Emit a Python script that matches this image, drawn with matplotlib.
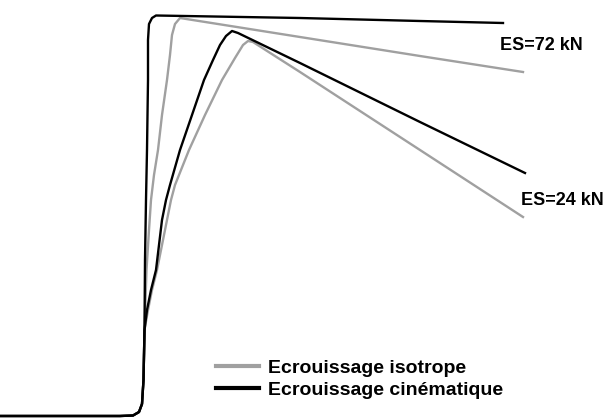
import matplotlib.pyplot as plt

plt.rcParams['font.family'] = ['Liberation Sans', 'DejaVu Sans']

# common part of the curves (all four start together)
base_x = [0, 120, 133, 139, 142, 143.5, 144.5]
base_y = [416, 416, 415.5, 412, 404, 380, 330]

# ES = 72 kN
cin72_x = base_x + [145, 146, 147, 148, 148, 149, 152, 156, 300, 420, 503]
cin72_y = base_y + [260, 200, 150, 80, 40, 24, 18, 15.5, 18, 21, 23]
iso72_x = base_x + [146.5, 149, 151, 154, 158, 162, 167, 170, 172, 175, 180, 300, 420, 523]
iso72_y = base_y + [270, 230, 200, 175, 150, 115, 80, 55, 35, 24, 18, 37, 56, 72]

# ES = 24 kN
cin24_x = base_x + [147, 151, 156, 159, 162, 166, 170, 180, 192, 204, 213, 220, 226, 232, 238, 300, 420, 525]
cin24_y = base_y + [310, 290, 270, 245, 220, 200, 185, 150, 115, 80, 60, 45, 36, 31, 33, 63, 122, 173]
iso24_x = base_x + [148, 152, 157, 163, 167, 171, 175, 189, 205, 222, 235, 243, 248, 253, 300, 420, 523]
iso24_y = base_y + [310, 290, 270, 240, 220, 200, 185, 150, 115, 80, 58, 45, 41, 42, 72, 150, 217]

gris = '#a0a0a0'
noir = '#000000'

fig = plt.figure(figsize=(6.06, 4.19), dpi=100)
ax = fig.add_axes([0, 0, 1, 1])
ax.set_xlim(0, 606)
ax.set_ylim(419, 0)
ax.axis('off')

l_iso, = ax.plot(iso72_x, iso72_y, color=gris, lw=1.7, label='Ecrouissage isotrope')
ax.plot(iso24_x, iso24_y, color=gris, lw=1.7)
l_cin, = ax.plot(cin72_x, cin72_y, color=noir, lw=1.7, label='Ecrouissage cinématique')
ax.plot(cin24_x, cin24_y, color=noir, lw=1.7)

ax.text(500, 46, 'ES=72 kN', fontsize=13, fontweight='bold', va='center', ha='left')
ax.text(521, 200, 'ES=24 kN', fontsize=13, fontweight='bold', va='center', ha='left')

leg = ax.legend(handles=[l_iso, l_cin], loc='center left', bbox_to_anchor=(216, 379),
                bbox_transform=ax.transData, frameon=False, borderpad=0, borderaxespad=0,
                handlelength=2.2, handletextpad=0.5, labelspacing=0.25,
                prop={'size': 14, 'weight': 'bold'})
for h in leg.get_lines():
    h.set_linewidth(3)

fig.savefig('out.png', dpi=100)
